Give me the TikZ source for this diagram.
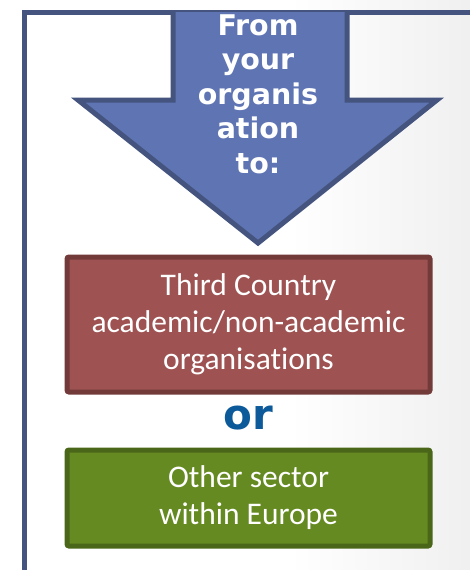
\documentclass[tikz,border=0pt]{standalone}
\usepackage{fontspec}
\setmainfont[Ligatures=NoCommon]{Carlito}
\newfontfamily\headfont{DejaVu Sans}
\usetikzlibrary{positioning}
\definecolor{framecol}{HTML}{44547F}
\definecolor{arrowfill}{HTML}{5F75B3}
\definecolor{redfill}{HTML}{9E5252}
\definecolor{redline}{HTML}{733A3A}
\definecolor{greenfill}{HTML}{668A22}
\definecolor{greenline}{HTML}{4A6618}
\definecolor{orcol}{HTML}{0D5A9A}
\tikzset{
    frame line/.style={framecol,line width=5pt},
    arrow shape/.style={fill=arrowfill,draw=framecol,line width=5pt,line join=miter},
    arrow text/.style={text=white,font=\headfont\bfseries\fontsize{28.5}{34.5}\selectfont,align=center},
    target box/.style={minimum width=363pt,line width=5pt,rounded corners=2pt,text=white,
        align=center,font=\fontsize{31.5}{37}\selectfont},
    third box/.style={target box,fill=redfill,draw=redline,minimum height=135pt},
    other box/.style={target box,fill=greenfill,draw=greenline,minimum height=96pt},
}

\begin{document}
\begin{tikzpicture}[x=1pt,y=-1pt]
        \useasboundingbox (0,0) rectangle (470,570);
        \fill[white] (0,0) rectangle (290,570);
        \shade[left color=white,right color=black!6] (290,0) rectangle (470,570);
        \draw[frame line] (24,570) -- (24,12) -- (470,12);

        % big arrow
        \draw[arrow shape] (173,12) -- (173,100) -- (78,100) -- (258,243)
            -- (437,100) -- (347,100) -- (347,12);
        \node[arrow text] (from) at (258,94) {From\\your\\organis\\ation\\to:};

        \node[third box] (third) at (248.5,324.5)
            {Third Country\\academic/non-academic\\organisations};
        \node[text=orcol,font=\headfont\bfseries\fontsize{42}{42}\selectfont]
            (or) at (248,418) {or};
        \node[other box] (other) at (248.5,498)
            {Other sector\\within Europe};
\end{tikzpicture}
\end{document}
